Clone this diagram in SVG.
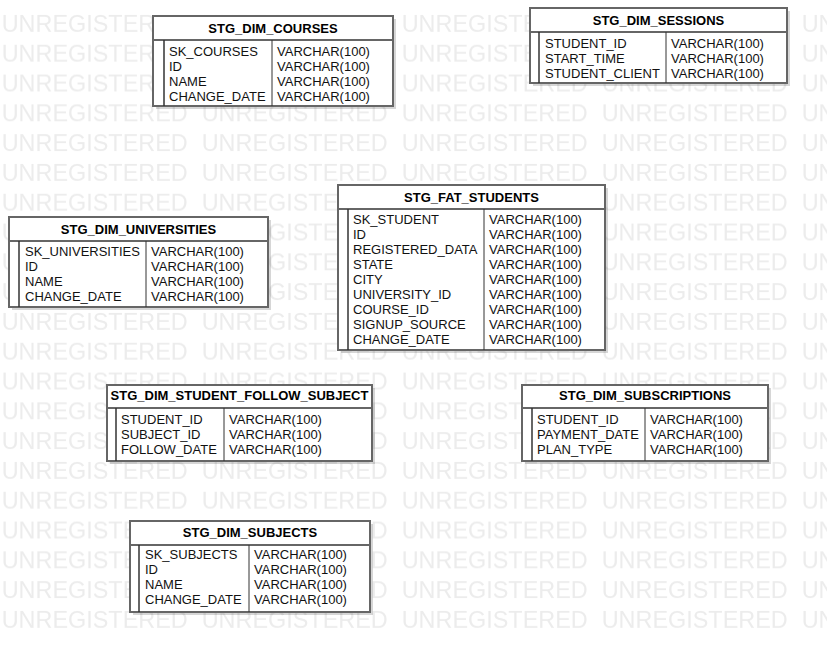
<svg xmlns="http://www.w3.org/2000/svg" width="827" height="652" viewBox="0 0 827 652">
<defs>
<style>
.wm{font-family:"Liberation Sans",Arial,sans-serif;font-size:23px;fill:#ececec}
.sh{fill:#000;opacity:0.16}
.box{fill:#fff;stroke:#666;stroke-width:2}
.hl{stroke:#666;stroke-width:2}
.il{stroke:#333;stroke-width:1.5}
.sl{stroke:#333;stroke-width:1}
.hd{font-family:"Liberation Sans",Arial,sans-serif;font-size:13px;font-weight:bold;fill:#000;text-anchor:middle}
.tx{font-family:"Liberation Sans",Arial,sans-serif;font-size:13px;fill:#111}
</style>
<pattern id="wmp" patternUnits="userSpaceOnUse" x="0" y="10" width="200" height="29.8">
<text class="wm" x="1.7" y="22" textLength="186" lengthAdjust="spacingAndGlyphs">UNREGISTERED</text>
</pattern>
</defs>
<rect width="827" height="652" fill="#fff"/>
<rect id="watermark" x="0" y="10" width="827" height="622" fill="url(#wmp)"/>
<g id="connectors"/>

<g id="stg_dim_courses">
<rect class="sh" x="156" y="19" width="240" height="90"/>
<rect class="box" x="153" y="16" width="240" height="90"/>
<line class="hl" x1="153" y1="40" x2="393" y2="40"/>
<line class="il" x1="164" y1="40" x2="164" y2="106"/>
<line class="sl" x1="272" y1="40" x2="272" y2="106"/>
<text class="hd" x="273" y="33">STG_DIM_COURSES</text>
<text class="tx" x="169" y="55.5">SK_COURSES</text><text class="tx" x="277" y="55.5">VARCHAR(100)</text>
<text class="tx" x="169" y="70.5">ID</text><text class="tx" x="277" y="70.5">VARCHAR(100)</text>
<text class="tx" x="169" y="85.5">NAME</text><text class="tx" x="277" y="85.5">VARCHAR(100)</text>
<text class="tx" x="169" y="100.5">CHANGE_DATE</text><text class="tx" x="277" y="100.5">VARCHAR(100)</text>
</g>

<g id="stg_dim_sessions">
<rect class="sh" x="533" y="11" width="257" height="75"/>
<rect class="box" x="530" y="8" width="257" height="75"/>
<line class="hl" x1="530" y1="32" x2="787" y2="32"/>
<line class="il" x1="539" y1="32" x2="539" y2="83"/>
<line class="sl" x1="666" y1="32" x2="666" y2="83"/>
<text class="hd" x="658.5" y="25">STG_DIM_SESSIONS</text>
<text class="tx" x="545" y="47.5">STUDENT_ID</text><text class="tx" x="671" y="47.5">VARCHAR(100)</text>
<text class="tx" x="545" y="62.5">START_TIME</text><text class="tx" x="671" y="62.5">VARCHAR(100)</text>
<text class="tx" x="545" y="77.5">STUDENT_CLIENT</text><text class="tx" x="671" y="77.5">VARCHAR(100)</text>
</g>

<g id="stg_fat_students">
<rect class="sh" x="341" y="188" width="267" height="165"/>
<rect class="box" x="338" y="185" width="267" height="165"/>
<line class="hl" x1="338" y1="209" x2="605" y2="209"/>
<line class="il" x1="348" y1="209" x2="348" y2="350"/>
<line class="sl" x1="484" y1="209" x2="484" y2="350"/>
<text class="hd" x="471.5" y="201.5">STG_FAT_STUDENTS</text>
<text class="tx" x="353" y="223.5">SK_STUDENT</text><text class="tx" x="489" y="223.5">VARCHAR(100)</text>
<text class="tx" x="353" y="238.5">ID</text><text class="tx" x="489" y="238.5">VARCHAR(100)</text>
<text class="tx" x="353" y="253.5">REGISTERED_DATA</text><text class="tx" x="489" y="253.5">VARCHAR(100)</text>
<text class="tx" x="353" y="268.5">STATE</text><text class="tx" x="489" y="268.5">VARCHAR(100)</text>
<text class="tx" x="353" y="283.5">CITY</text><text class="tx" x="489" y="283.5">VARCHAR(100)</text>
<text class="tx" x="353" y="298.5">UNIVERSITY_ID</text><text class="tx" x="489" y="298.5">VARCHAR(100)</text>
<text class="tx" x="353" y="313.5">COURSE_ID</text><text class="tx" x="489" y="313.5">VARCHAR(100)</text>
<text class="tx" x="353" y="328.5">SIGNUP_SOURCE</text><text class="tx" x="489" y="328.5">VARCHAR(100)</text>
<text class="tx" x="353" y="343.5">CHANGE_DATE</text><text class="tx" x="489" y="343.5">VARCHAR(100)</text>
</g>

<g id="stg_dim_universities">
<rect class="sh" x="12" y="220" width="259" height="90"/>
<rect class="box" x="9" y="217" width="259" height="90"/>
<line class="hl" x1="9" y1="241" x2="268" y2="241"/>
<line class="il" x1="19" y1="241" x2="19" y2="307"/>
<line class="sl" x1="146" y1="241" x2="146" y2="307"/>
<text class="hd" x="138.5" y="233.5">STG_DIM_UNIVERSITIES</text>
<text class="tx" x="25" y="255.5">SK_UNIVERSITIES</text><text class="tx" x="151" y="255.5">VARCHAR(100)</text>
<text class="tx" x="25" y="270.5">ID</text><text class="tx" x="151" y="270.5">VARCHAR(100)</text>
<text class="tx" x="25" y="285.5">NAME</text><text class="tx" x="151" y="285.5">VARCHAR(100)</text>
<text class="tx" x="25" y="300.5">CHANGE_DATE</text><text class="tx" x="151" y="300.5">VARCHAR(100)</text>
</g>

<g id="stg_dim_student_follow_subject">
<rect class="sh" x="110" y="388" width="265" height="76"/>
<rect class="box" x="107" y="385" width="265" height="76"/>
<line class="hl" x1="107" y1="408" x2="372" y2="408"/>
<line class="il" x1="116" y1="408" x2="116" y2="461"/>
<line class="sl" x1="224" y1="408" x2="224" y2="461"/>
<text class="hd" x="239.5" y="400">STG_DIM_STUDENT_FOLLOW_SUBJECT</text>
<text class="tx" x="121" y="423.5">STUDENT_ID</text><text class="tx" x="229" y="423.5">VARCHAR(100)</text>
<text class="tx" x="121" y="438.5">SUBJECT_ID</text><text class="tx" x="229" y="438.5">VARCHAR(100)</text>
<text class="tx" x="121" y="453.5">FOLLOW_DATE</text><text class="tx" x="229" y="453.5">VARCHAR(100)</text>
</g>

<g id="stg_dim_subscriptions">
<rect class="sh" x="525" y="388" width="246" height="76"/>
<rect class="box" x="522" y="385" width="246" height="76"/>
<line class="hl" x1="522" y1="408" x2="768" y2="408"/>
<line class="il" x1="532" y1="408" x2="532" y2="461"/>
<line class="sl" x1="645" y1="408" x2="645" y2="461"/>
<text class="hd" x="645" y="400">STG_DIM_SUBSCRIPTIONS</text>
<text class="tx" x="537" y="423.5">STUDENT_ID</text><text class="tx" x="650" y="423.5">VARCHAR(100)</text>
<text class="tx" x="537" y="438.5">PAYMENT_DATE</text><text class="tx" x="650" y="438.5">VARCHAR(100)</text>
<text class="tx" x="537" y="453.5">PLAN_TYPE</text><text class="tx" x="650" y="453.5">VARCHAR(100)</text>
</g>

<g id="stg_dim_subjects">
<rect class="sh" x="133" y="524" width="240" height="91"/>
<rect class="box" x="130" y="521" width="240" height="91"/>
<line class="hl" x1="130" y1="545" x2="370" y2="545"/>
<line class="il" x1="139" y1="545" x2="139" y2="612"/>
<line class="sl" x1="249" y1="545" x2="249" y2="612"/>
<text class="hd" x="250" y="537">STG_DIM_SUBJECTS</text>
<text class="tx" x="145" y="558.5">SK_SUBJECTS</text><text class="tx" x="254" y="558.5">VARCHAR(100)</text>
<text class="tx" x="145" y="573.5">ID</text><text class="tx" x="254" y="573.5">VARCHAR(100)</text>
<text class="tx" x="145" y="588.5">NAME</text><text class="tx" x="254" y="588.5">VARCHAR(100)</text>
<text class="tx" x="145" y="603.5">CHANGE_DATE</text><text class="tx" x="254" y="603.5">VARCHAR(100)</text>
</g>
</svg>
